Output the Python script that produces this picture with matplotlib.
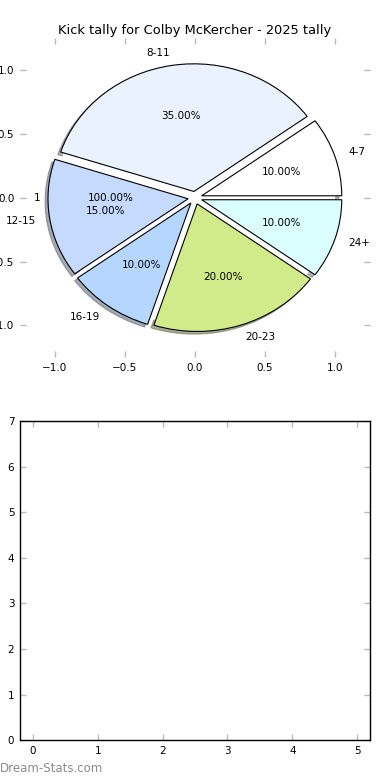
import matplotlib
matplotlib.use("Agg")
import matplotlib.pyplot as plt

TITLE = "Kick tally for Colby McKercher - 2025 tally"

# kicks per bucket (counts -> percentages)
labels = ["4-7", "8-11", "12-15", "16-19", "20-23", "24+"]
kicks = [2, 7, 3, 2, 4, 2]
colors = ["#ffffff", "#eaf1ff", "#c6d9ff", "#b5d6ff", "#d1eb8a", "#dbffff"]
explode = [0.05] * len(kicks)

# leftover placeholder pie (single wedge labelled "1")
dummy_vals = [1]
dummy_labels = ["1"]

TICK_GREY = "#bbbbbb"
FS = 7.5

fig = plt.figure(figsize=(3.9, 7.8), dpi=100)
fig.subplots_adjust(left=0.051, right=0.949, bottom=0.051, top=0.951, hspace=0.2)

ax_pie = fig.add_subplot(2, 1, 1)
ax_bar = fig.add_subplot(2, 1, 2)

# invisible base pie
ax_pie.pie(dummy_vals, labels=dummy_labels, colors=["white"], autopct="%.2f%%",
           wedgeprops={"linewidth": 0}, textprops={"fontsize": FS})

ax_pie.pie(kicks, labels=labels, colors=colors, explode=explode,
           shadow={"ox": -0.015, "oy": -0.015, "shade": 0.6},
           autopct="%.2f%%", startangle=0,
           wedgeprops={"edgecolor": "black", "linewidth": 0.8},
           textprops={"fontsize": FS})

ax_pie.set_aspect("auto")
ax_pie.set_xlim(-1.25, 1.25)
ax_pie.set_ylim(-1.25, 1.25)
ax_pie.set_frame_on(False)
ax_pie.set_xticks([-1.0, -0.5, 0.0, 0.5, 1.0])
ax_pie.set_yticks([-1.0, -0.5, 0.0, 0.5, 1.0])
ax_pie.set_title(TITLE, fontsize=9.4, pad=3)

ax_bar.set_xlim(-0.2, 5.2)
ax_bar.set_ylim(0, 7)
ax_bar.set_xticks(range(0, 6))
ax_bar.set_yticks(range(0, 8))
for sp in ax_bar.spines.values():
    sp.set_linewidth(1.0)

for a in (ax_pie, ax_bar):
    a.tick_params(direction="in", length=4, width=1, color=TICK_GREY,
                  labelsize=FS, top=True, right=True, pad=4)

fig.text(0.0, 0.006, "Dream-Stats.com", fontsize=8.5, color="#8c8c8c",
         ha="left", va="bottom")

fig.savefig("out.png", dpi=100)
